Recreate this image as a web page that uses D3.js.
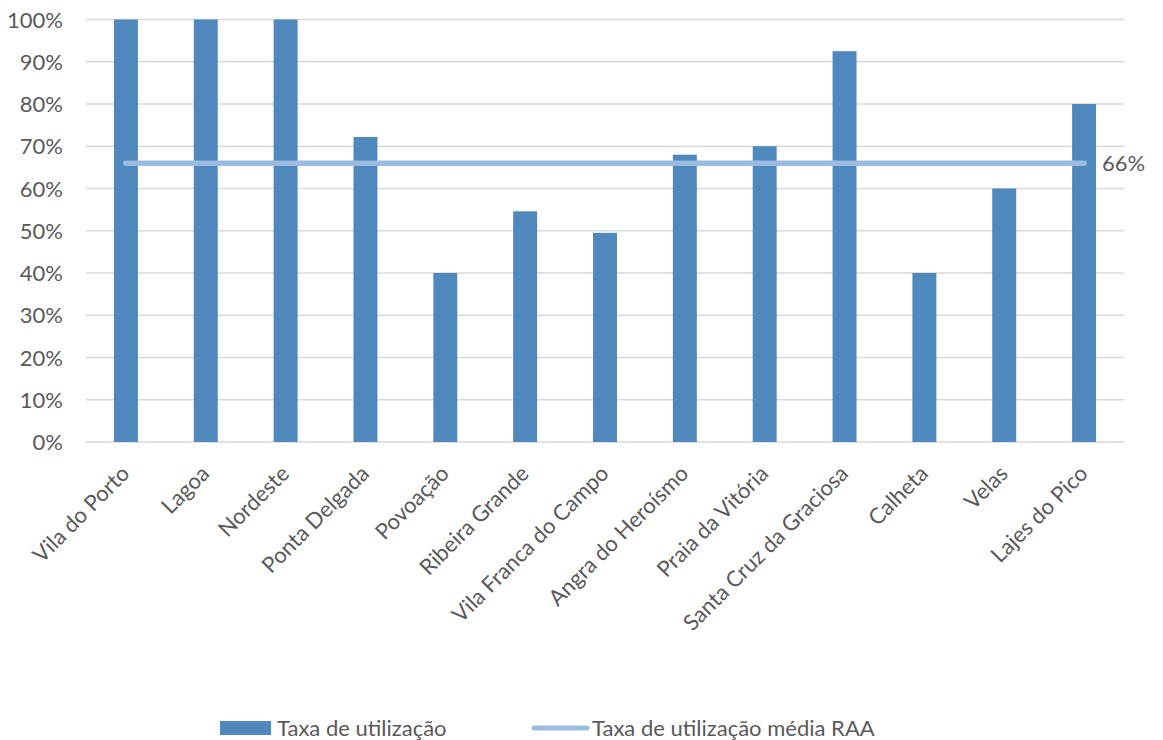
<!DOCTYPE html>
<html><head><meta charset="utf-8">
<script src="https://cdn.jsdelivr.net/npm/d3@7"></script>
<style>body{margin:0;background:#fff;} text{font-family:Lato,"Open Sans",sans-serif;fill:#595959;}</style>
</head><body>
<svg id="c" width="1163" height="740"></svg>
<script>
const categories = ["Vila do Porto","Lagoa","Nordeste","Ponta Delgada","Povoação","Ribeira Grande","Vila Franca do Campo","Angra do Heroísmo","Praia da Vitória","Santa Cruz da Graciosa","Calheta","Velas","Lajes do Pico"];
const taxaUtilizacao = [1.00,1.00,1.00,0.722,0.40,0.546,0.495,0.68,0.70,0.925,0.40,0.60,0.80];
const mediaRAA = 0.66;
const yTicks = [0,0.1,0.2,0.3,0.4,0.5,0.6,0.7,0.8,0.9,1.0];
const legendLabels = ["Taxa de utilização","Taxa de utilização média RAA"];

const svg = d3.select("#c");
const L=86, R=1124, T=19.5, B=442;
const FS = "22px";
const x = d3.scaleBand().domain(categories).range([L,R]).paddingInner(0.7).paddingOuter(0.35);
const y = d3.scaleLinear().domain([0,1]).range([B,T]);

// gridlines
svg.append("g").selectAll("line").data(yTicks).join("line")
  .attr("x1",L).attr("x2",R).attr("y1",d=>y(d)).attr("y2",d=>y(d))
  .attr("stroke","#d9d9d9").attr("stroke-width",1.5);

// y axis labels
const yAxis = d3.axisLeft(y).tickValues(yTicks).tickFormat(d3.format(".0%")).tickSize(0).tickPadding(23);
const gy = svg.append("g").attr("transform",`translate(${L},0)`).call(yAxis);
gy.select(".domain").remove();
gy.selectAll("text").style("font-size",FS).attr("dy","0.35em").style("fill","#595959");

// bars
svg.append("g").selectAll("rect").data(taxaUtilizacao).join("rect")
  .attr("x",(d,i)=>x(categories[i])).attr("width",x.bandwidth())
  .attr("y",d=>y(d)).attr("height",d=>B-y(d)).attr("fill","#4f88bd");

// average line
const xc = c => x(c)+x.bandwidth()/2;
const lineData = [categories[0], categories[categories.length-1]];
svg.append("path").datum(lineData)
  .attr("d", d3.line().x(c=>xc(c)).y(()=>y(mediaRAA)))
  .attr("stroke","#9bbbe0").attr("stroke-width",5.5).attr("stroke-linecap","round").attr("fill","none");
svg.append("text").attr("x",xc(categories[categories.length-1])+18).attr("y",y(mediaRAA)).attr("dy","0.35em")
  .style("font-size",FS).text(d3.format(".0%")(mediaRAA));

// x axis labels
const xAxis = d3.axisBottom(x).tickSize(0).tickPadding(0);
const gx = svg.append("g").attr("transform",`translate(0,${B})`).call(xAxis);
gx.select(".domain").remove();
gx.selectAll("text").style("font-size",FS).style("fill","#595959")
  .attr("text-anchor","end").attr("dy","0")
  .attr("transform","translate(5,33) rotate(-45)");

// legend
const lg = svg.append("g");
lg.append("rect").attr("x",220).attr("y",721).attr("width",51).attr("height",14).attr("fill","#4f88bd");
lg.append("text").attr("x",277).attr("y",728).attr("dy","0.35em").style("font-size",FS).text(legendLabels[0]);
lg.append("line").attr("x1",534).attr("x2",587).attr("y1",728).attr("y2",728)
  .attr("stroke","#9bbbe0").attr("stroke-width",5).attr("stroke-linecap","round");
lg.append("text").attr("x",592).attr("y",728).attr("dy","0.35em").style("font-size",FS).text(legendLabels[1]);
</script>
</body></html>
